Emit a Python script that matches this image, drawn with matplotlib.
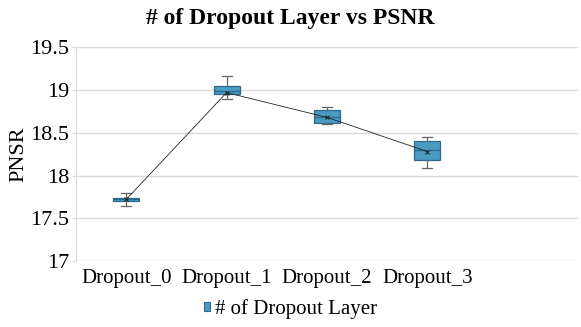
import matplotlib
matplotlib.use("Agg")
import matplotlib.pyplot as plt
from matplotlib.patches import Patch

categories = ["Dropout_0", "Dropout_1", "Dropout_2", "Dropout_3"]
whisker_low = [17.64, 18.90, 18.60, 18.09]
q1 = [17.70, 18.95, 18.62, 18.18]
median = [17.72, 18.99, 18.69, 18.30]
q3 = [17.74, 19.05, 18.765, 18.40]
whisker_high = [17.79, 19.16, 18.80, 18.45]
means = [17.72, 18.97, 18.68, 18.28]
series_name = "# of Dropout Layer"
yticks = [17, 17.5, 18, 18.5, 19, 19.5]
yticklabels = ["17", "17.5", "18", "18.5", "19", "19.5"]

plt.rcParams['font.family'] = ['Liberation Serif', 'DejaVu Serif']

fig = plt.figure(figsize=(5.81, 3.27), dpi=100)
ax = fig.add_axes([0.1308, 0.2018, 0.8640, 0.6536])

fill = "#4a9bc2"
edge = "#2b6a88"
stats = []
for i, c in enumerate(categories):
    stats.append(dict(label=c, whislo=whisker_low[i], q1=q1[i], med=median[i],
                      q3=q3[i], whishi=whisker_high[i], mean=means[i], fliers=[]))
pos = list(range(len(categories)))
ax.bxp(stats, positions=pos, widths=0.26, patch_artist=True, showmeans=False,
       showfliers=False,
       boxprops=dict(facecolor=fill, edgecolor=edge, linewidth=0.9),
       medianprops=dict(color=edge, linewidth=0.9),
       whiskerprops=dict(color="#666666", linewidth=0.9),
       capprops=dict(color="#666666", linewidth=0.9),
       capwidths=0.1, zorder=3)
ax.plot(pos, means, color="#222222", linewidth=0.6, marker="x", markersize=3.5,
        markeredgewidth=0.8, zorder=4)

ax.set_xlim(-0.5, 4.5)
ax.set_ylim(17, 19.5)
ax.set_yticks(yticks)
ax.set_yticklabels(yticklabels, fontsize=16)
ax.set_xticks(pos)
ax.set_xticklabels(categories, fontsize=15)
ax.grid(axis="y", color="#d9d9d9", linewidth=1.0, zorder=0)
ax.set_axisbelow(True)
for s in ["top", "right", "bottom"]:
    ax.spines[s].set_visible(False)
ax.spines["left"].set_color("#d9d9d9")
ax.tick_params(axis="y", length=3, color="#d9d9d9", pad=2)
ax.tick_params(axis="x", length=0, pad=6)
ax.set_ylabel("PNSR", fontsize=16, labelpad=1)

fig.text(0.5, 0.943, "# of Dropout Layer vs PSNR", ha="center", va="center",
         fontsize=17, fontweight="bold")

handle = Patch(facecolor=fill, edgecolor=edge, linewidth=0.8)
fig.legend([handle], [series_name], loc="center", bbox_to_anchor=(0.5, 0.055),
           frameon=False, fontsize=15, handlelength=0.3, handleheight=0.3,
           handletextpad=0.2)

fig.savefig("out.png", dpi=100)
